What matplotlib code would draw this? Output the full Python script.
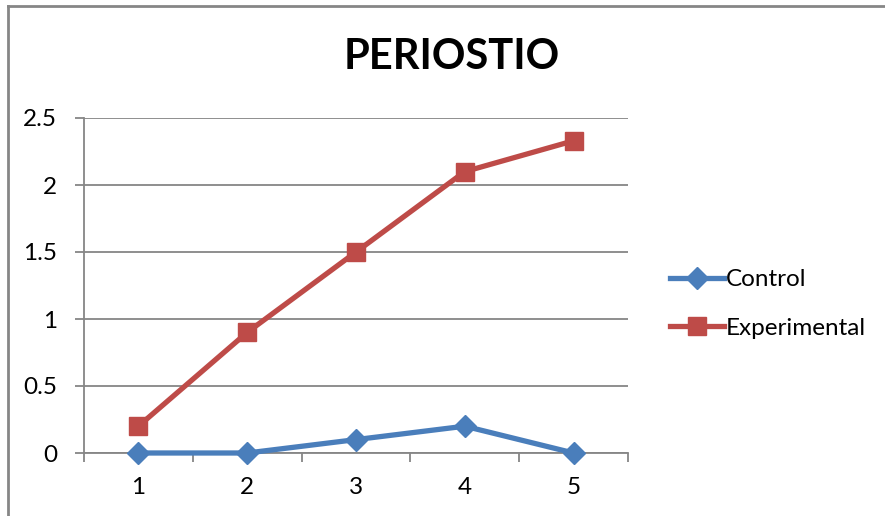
import numpy as np
import matplotlib
matplotlib.use('Agg')
import matplotlib.pyplot as plt
from matplotlib.lines import Line2D

plt.rcParams['font.family'] = ['Lato', 'DejaVu Sans']

# datos del periostio por semana
semanas = [1, 2, 3, 4, 5]
control = [0, 0, 0.1, 0.2, 0]
experimental = [0.2, 0.9, 1.5, 2.1, 2.33]

azul = '#4A7EBB'
rojo = '#BE4B48'
gris = '#868686'

W, H = 885, 516
fig = plt.figure(figsize=(W / 100, H / 100), dpi=100)
ax = fig.add_axes([84 / W, 1 - 453 / H, (628 - 84) / W, (453 - 118) / H])

ax.plot(semanas, control, color=azul, lw=3.8, marker='D', ms=11,
        mec=azul, mfc=azul, label='Control', zorder=3, clip_on=False)
ax.plot(semanas, experimental, color=rojo, lw=3.8, marker='s', ms=13,
        mec=rojo, mfc=rojo, label='Experimental', zorder=3, clip_on=False)

ax.set_xlim(0.5, 5.5)
ax.set_ylim(0, 2.5)
ax.set_yticks(np.arange(0, 2.51, 0.5))
ax.set_yticklabels(['0', '0.5', '1', '1.5', '2', '2.5'])
ax.set_xticks(semanas)
ax.set_xticks(np.arange(0.5, 5.6, 1), minor=True)

ax.grid(axis='y', color=gris, lw=1.3)
ax.set_axisbelow(True)
for s in ['top', 'right']:
    ax.spines[s].set_visible(False)
for s in ['left', 'bottom']:
    ax.spines[s].set_color(gris)
    ax.spines[s].set_linewidth(1.3)

ax.tick_params(axis='y', length=6.5, width=1.3, color=gris, labelsize=17.5, pad=13)
ax.tick_params(axis='x', which='major', length=0, labelsize=17.5, pad=17)
ax.tick_params(axis='x', which='minor', length=6.5, width=1.3, color=gris)

fig.text(452 / W, 1 - 57 / H, 'PERIOSTIO', ha='center', va='center',
         fontsize=30, fontweight='bold')

fig.legend(loc='center left', bbox_to_anchor=(658 / W, 1 - 304 / H),
           frameon=False, fontsize=17.5, handlelength=2.2, labelspacing=1.12,
           handletextpad=0.1, borderpad=0)

# borde del grafico
fig.add_artist(Line2D([8 / W, 1], [1 - 6 / H, 1 - 6 / H], color=gris, lw=2))
fig.add_artist(Line2D([8 / W, 8 / W], [0, 1 - 6 / H], color=gris, lw=2))

fig.savefig('out.png', dpi=100)
